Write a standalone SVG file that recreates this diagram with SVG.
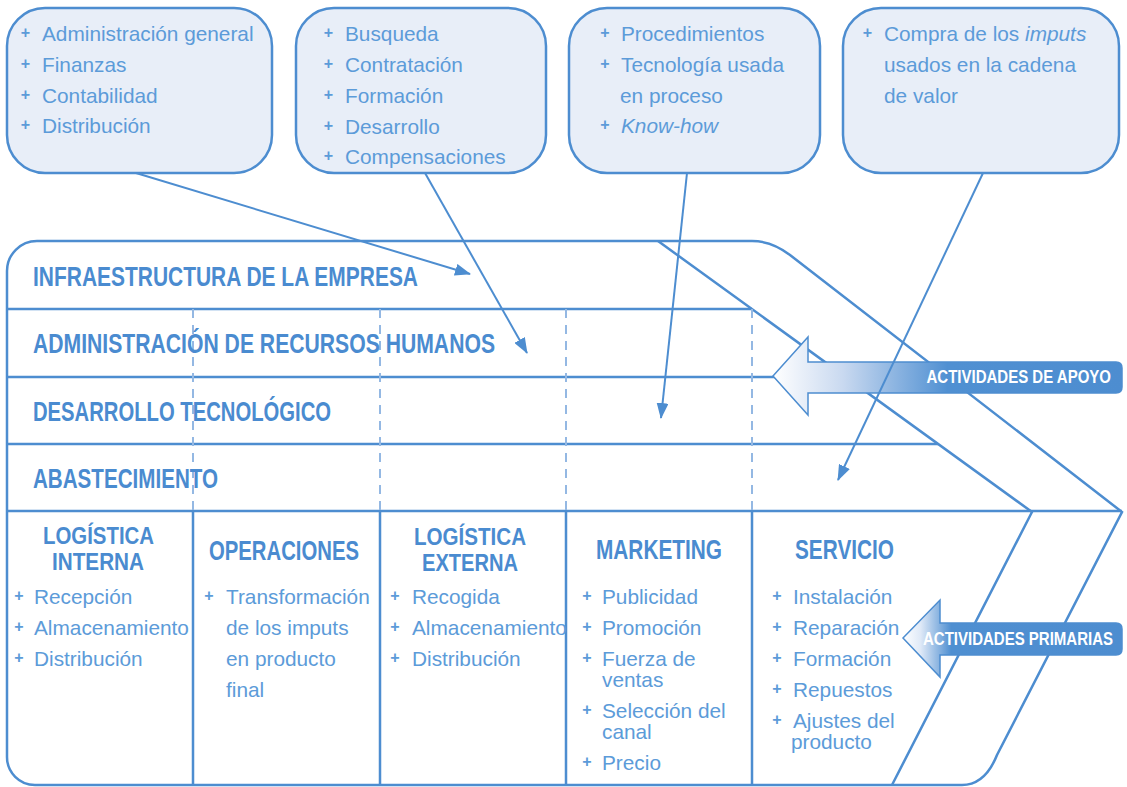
<svg xmlns="http://www.w3.org/2000/svg" width="1127" height="787" viewBox="0 0 1127 787">
<style>
.box{fill:#e8eef8;stroke:#4d8dd0;stroke-width:2.5}
.ln{fill:none;stroke:#4d8dd0;stroke-width:2.5}
.dash{fill:none;stroke:#94b8e3;stroke-width:2;stroke-dasharray:9 7}
.con{fill:none;stroke:#4d8dd0;stroke-width:2}
.t{font-family:"Liberation Sans",Arial,sans-serif;font-size:20.8px;fill:#5c9bd9}
.pl{font-family:"Liberation Sans",Arial,sans-serif;font-size:16px;font-weight:bold;fill:#5c9bd9;text-anchor:middle}
.h{font-family:"Liberation Sans Narrow","Liberation Sans",Arial,sans-serif;font-weight:bold;font-size:28px;fill:#4a8bd0}
.h2{font-family:"Liberation Sans Narrow","Liberation Sans",Arial,sans-serif;font-weight:bold;font-size:24.5px;fill:#4a8bd0}
.w{font-family:"Liberation Sans",Arial,sans-serif;font-weight:bold;font-size:19px;fill:#ffffff;text-anchor:end}
.arr{stroke:#4d8dd0;stroke-width:1.5}
</style>
<defs>
<marker id="ah" markerUnits="userSpaceOnUse" markerWidth="16" markerHeight="12" viewBox="0 0 16 12" refX="15" refY="6" orient="auto">
<path d="M0,0 L16,6 L0,12 Z" fill="#4d8dd0"/>
</marker>
<linearGradient id="g1" x1="773" y1="0" x2="1122" y2="0" gradientUnits="userSpaceOnUse">
<stop offset="0" stop-color="#ffffff"/>
<stop offset="0.2" stop-color="#c9d9f0"/>
<stop offset="0.5" stop-color="#5090d2"/>
<stop offset="1" stop-color="#4d8dd0"/>
</linearGradient>
<linearGradient id="g2" x1="903" y1="0" x2="1122" y2="0" gradientUnits="userSpaceOnUse">
<stop offset="0" stop-color="#ffffff"/>
<stop offset="0.08" stop-color="#dfe9f7"/>
<stop offset="0.22" stop-color="#4f8fd1"/>
<stop offset="1" stop-color="#4d8dd0"/>
</linearGradient>
</defs>

<g id="frame">
<path class="ln" d="M7,271 A30,30 0 0 1 37,241 L752,241 Q772,241 790,255 L1122,512 L997,755 Q985,785 962,785 L35,785 A28,28 0 0 1 7,757 Z" style="fill:#ffffff"/>
<path class="ln" d="M7,309 H752 M7,377 H845 M7,444 H938 M7,511 H1122"/>
<path class="ln" d="M658,241 L1032,512 L892,785"/>
<path class="dash" d="M193,309 V511 M380,309 V511 M566,309 V511 M752,309 V511"/>
<path class="ln" d="M193,511 V785 M380,511 V785 M566,511 V785 M752,511 V785"/>
</g>

<g id="support-rows">
<text class="h" x="33" y="286" textLength="385" lengthAdjust="spacingAndGlyphs">INFRAESTRUCTURA DE LA EMPRESA</text>
<text class="h" x="33" y="353" textLength="462" lengthAdjust="spacingAndGlyphs">ADMINISTRACIÓN DE RECURSOS HUMANOS</text>
<text class="h" x="33" y="421" textLength="298" lengthAdjust="spacingAndGlyphs">DESARROLLO TECNOLÓGICO</text>
<text class="h" x="33" y="488" textLength="185" lengthAdjust="spacingAndGlyphs">ABASTECIMIENTO</text>
</g>

<g id="box-infraestructura">
<rect class="box" x="7" y="8" width="265" height="165" rx="38"/>
<text class="pl" x="25.5" y="38">+</text><text class="t" x="42" y="41">Administración general</text>
<text class="pl" x="25.5" y="69">+</text><text class="t" x="42" y="72">Finanzas</text>
<text class="pl" x="25.5" y="100">+</text><text class="t" x="42" y="103">Contabilidad</text>
<text class="pl" x="25.5" y="130">+</text><text class="t" x="42" y="133">Distribución</text>
</g>

<g id="box-rrhh">
<rect class="box" x="296" y="8" width="250" height="165" rx="38"/>
<text class="pl" x="328.5" y="38">+</text><text class="t" x="345" y="41">Busqueda</text>
<text class="pl" x="328.5" y="69">+</text><text class="t" x="345" y="72">Contratación</text>
<text class="pl" x="328.5" y="100">+</text><text class="t" x="345" y="103">Formación</text>
<text class="pl" x="328.5" y="131">+</text><text class="t" x="345" y="134">Desarrollo</text>
<text class="pl" x="328.5" y="161">+</text><text class="t" x="345" y="164">Compensaciones</text>
</g>

<g id="box-tecnologia">
<rect class="box" x="569" y="8" width="251" height="165" rx="38"/>
<text class="pl" x="605" y="38">+</text><text class="t" x="621" y="41">Procedimientos</text>
<text class="pl" x="605" y="69">+</text><text class="t" x="621" y="72">Tecnología usada</text>
<text class="t" x="620" y="103">en proceso</text>
<text class="pl" x="605" y="130">+</text><text class="t" x="621" y="133" font-style="italic">Know-how</text>
</g>

<g id="box-abastecimiento">
<rect class="box" x="843" y="8" width="276" height="165" rx="38"/>
<text class="pl" x="867.5" y="38">+</text><text class="t" x="884" y="41">Compra de los <tspan font-style="italic">imputs</tspan></text>
<text class="t" x="884" y="72">usados en la cadena</text>
<text class="t" x="884" y="103">de valor</text>
</g>

<g id="col-logistica-interna">
<text class="h2" x="98.5" y="544" text-anchor="middle" textLength="111" lengthAdjust="spacingAndGlyphs">LOGÍSTICA</text>
<text class="h2" x="98" y="570" text-anchor="middle" textLength="92" lengthAdjust="spacingAndGlyphs">INTERNA</text>
<text class="pl" x="19" y="601">+</text><text class="t" x="34" y="604">Recepción</text>
<text class="pl" x="19" y="632">+</text><text class="t" x="34" y="635">Almacenamiento</text>
<text class="pl" x="19" y="663">+</text><text class="t" x="34" y="666">Distribución</text>
</g>

<g id="col-operaciones">
<text class="h" x="284" y="560" text-anchor="middle" textLength="150" lengthAdjust="spacingAndGlyphs">OPERACIONES</text>
<text class="pl" x="209" y="601">+</text><text class="t" x="226" y="604">Transformación</text>
<text class="t" x="226" y="635">de los imputs</text>
<text class="t" x="226" y="666">en producto</text>
<text class="t" x="226" y="697">final</text>
</g>

<g id="col-logistica-externa">
<text class="h2" x="470" y="545" text-anchor="middle" textLength="112" lengthAdjust="spacingAndGlyphs">LOGÍSTICA</text>
<text class="h2" x="470" y="571" text-anchor="middle" textLength="96" lengthAdjust="spacingAndGlyphs">EXTERNA</text>
<text class="pl" x="395" y="601">+</text><text class="t" x="412" y="604">Recogida</text>
<text class="pl" x="395" y="632">+</text><text class="t" x="412" y="635">Almacenamiento</text>
<text class="pl" x="395" y="663">+</text><text class="t" x="412" y="666">Distribución</text>
</g>

<g id="col-marketing">
<text class="h" x="659" y="559" text-anchor="middle" textLength="126" lengthAdjust="spacingAndGlyphs">MARKETING</text>
<text class="pl" x="587" y="601">+</text><text class="t" x="602" y="604">Publicidad</text>
<text class="pl" x="587" y="632">+</text><text class="t" x="602" y="635">Promoción</text>
<text class="pl" x="587" y="663">+</text><text class="t" x="602" y="666">Fuerza de</text>
<text class="t" x="602" y="687">ventas</text>
<text class="pl" x="587" y="715">+</text><text class="t" x="602" y="718">Selección del</text>
<text class="t" x="602" y="739">canal</text>
<text class="pl" x="587" y="767">+</text><text class="t" x="602" y="770">Precio</text>
</g>

<g id="col-servicio">
<text class="h" x="844.5" y="559" text-anchor="middle" textLength="99" lengthAdjust="spacingAndGlyphs">SERVICIO</text>
<text class="pl" x="777" y="601">+</text><text class="t" x="793" y="604">Instalación</text>
<text class="pl" x="777" y="632">+</text><text class="t" x="793" y="635">Reparación</text>
<text class="pl" x="777" y="663">+</text><text class="t" x="793" y="666">Formación</text>
<text class="pl" x="777" y="694">+</text><text class="t" x="793" y="697">Repuestos</text>
<text class="pl" x="777" y="725">+</text><text class="t" x="793" y="728">Ajustes del</text>
<text class="t" x="791" y="749">producto</text>
</g>

<g id="arrow-apoyo">
<path class="arr" fill="url(#g1)" d="M773,376 L808,337 L808,362 L1116,362 Q1122,362 1122,368 L1122,387 Q1122,393 1116,393 L808,393 L808,415 Z"/>
<text class="w" transform="translate(1111,383) scale(0.79,1)" x="0" y="0">ACTIVIDADES DE APOYO</text>
</g>

<g id="arrow-primarias">
<path class="arr" fill="url(#g2)" d="M903,638 L940,600 L940,623 L1116,623 Q1122,623 1122,629 L1122,649 Q1122,655 1116,655 L940,655 L940,677 Z"/>
<text class="w" transform="translate(1113,645) scale(0.79,1)" x="0" y="0">ACTIVIDADES PRIMARIAS</text>
</g>

<g id="connectors">
<line class="con" x1="136" y1="173" x2="470" y2="274" marker-end="url(#ah)"/>
<line class="con" x1="425" y1="173" x2="527" y2="353" marker-end="url(#ah)"/>
<line class="con" x1="687" y1="173" x2="661" y2="418" marker-end="url(#ah)"/>
<line class="con" x1="983" y1="173" x2="838" y2="480" marker-end="url(#ah)"/>
</g>
</svg>
